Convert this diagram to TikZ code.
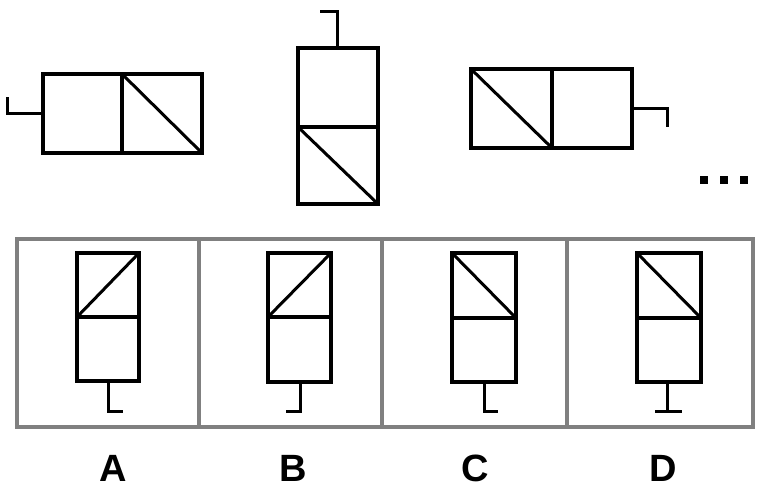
\documentclass[tikz,border=0pt]{standalone}
\usepackage{fontspec}
\setmainfont{Liberation Sans}
\begin{document}
\begin{tikzpicture}[x=1pt,y=-1pt,
  fig/.style={line width=3.6pt,draw=black,line join=miter},
  diag/.style={line width=3pt,draw=black},
  stub/.style={line width=3pt,draw=black},
  frame/.style={line width=3.4pt,draw=black!50},
  lab/.style={font=\fontsize{38}{40}\selectfont\bfseries,inner sep=0pt,anchor=center}]
\useasboundingbox (0,0) rectangle (769,491);
% top figure 1
\draw[fig] (43,74) rectangle (202,153);
\draw[fig] (122,74) -- (122,153);
\draw[diag] (122,74) -- (202,153);
\draw[stub] (43,113) -- (7,113) -- (7,97);
% top figure 2
\draw[fig] (298,48) rectangle (378,204);
\draw[fig] (298,127) -- (378,127);
\draw[diag] (298,127) -- (378,204);
\draw[stub] (337,48) -- (337,11) -- (320,11);
% top figure 3
\draw[fig] (471,69) rectangle (632,148);
\draw[fig] (552,69) -- (552,148);
\draw[diag] (471,69) -- (552,148);
\draw[stub] (632,108) -- (667,108) -- (667,127);
% dots
\foreach \x in {704,724,744} \fill[black] (\x-4,176) rectangle (\x+4,184);
% answer frame
\draw[frame] (17,239) rectangle (753,427);
\foreach \x in {199,382,567} \draw[frame] (\x,239) -- (\x,427);
% A
\draw[fig] (77,253) rectangle (139,381);
\draw[fig] (77,317) -- (139,317);
\draw[diag] (77,317) -- (139,253);
\draw[stub] (108,381) -- (108,411) -- (123,411);
% B
\draw[fig] (268,253) rectangle (331,382);
\draw[fig] (268,317) -- (331,317);
\draw[diag] (268,317) -- (331,253);
\draw[stub] (300,382) -- (300,411) -- (286,411);
% C
\draw[fig] (452,253) rectangle (516,382);
\draw[fig] (452,318) -- (516,318);
\draw[diag] (452,253) -- (516,318);
\draw[stub] (484,382) -- (484,411) -- (498,411);
% D
\draw[fig] (637,253) rectangle (701,382);
\draw[fig] (637,318) -- (701,318);
\draw[diag] (637,253) -- (701,318);
\draw[stub] (667,382) -- (667,411);
\draw[stub] (655,411) -- (682,411);
% labels
\node[lab] (la) at (113,468) {A};
\node[lab] (lb) at (293,468) {B};
\node[lab] (lc) at (475,468) {C};
\node[lab] (ld) at (663,468) {D};
\end{tikzpicture}
\end{document}
